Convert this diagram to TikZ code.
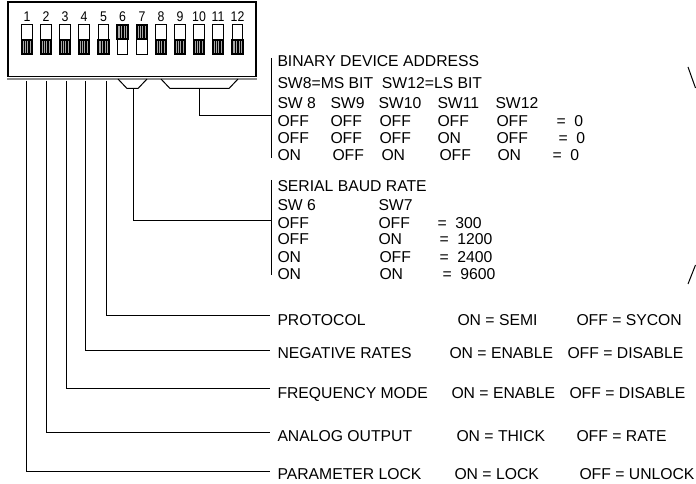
\documentclass[tikz,border=0pt]{standalone}
\usepackage{fontspec}
\setmainfont{Liberation Sans}
\usepackage{xcolor}
\begin{document}
\begin{tikzpicture}[x=0.75pt,y=-0.75pt,line width=0.75pt,
  swbody/.style={draw,fill=white,minimum width=8.2pt,minimum height=23.2pt,inner sep=0pt},
  swlever/.style={draw,fill=stripe,minimum width=7.8pt,minimum height=11.2pt,inner sep=0pt,line width=1.5pt},
  swnum/.style={inner sep=0pt,font=\fontsize{10.5}{12}\selectfont},
  rowtext/.style={anchor=west,inner sep=0pt,text height=8.5pt,text depth=0pt,font=\fontsize{11.8}{13}\selectfont},
  leadtext/.style={rowtext,inner xsep=5.25pt}]
\definecolor{stripe}{HTML}{A8A8A8}
\definecolor{rim}{HTML}{8C8C8C}
\useasboundingbox (0,0) rectangle (696,484);
% housing
\node [draw,line width=1pt,minimum width=186pt,minimum height=56pt,inner sep=0pt] (housing) at (132,39.5) {};
\draw [rim,line width=1.1pt] (housing.south west) ++(0,-1.2pt) -- ([yshift=-1.2pt]housing.south east);
% switches
\foreach \n/\xpos/\ypos/\lpos in {1/27/39.5/south,2/46/39.5/south,3/65/39.5/south,4/84/39.5/south,
    5/103.5/39.5/south,6/122.5/39.5/north,7/142/39.5/north,8/161/39.5/south,
    9/180/39.5/south,10/199/39.5/south,11/218/39.5/south,12/237.5/39.5/south}
{ \node [swbody] (sw\n) at (\xpos,\ypos) {};
  \node [swlever,anchor=\lpos] (lev\n) at (sw\n.\lpos) {};
  \foreach \k in {-1.8,-0.6,0.6,1.8}
  { \draw [line width=0.3pt] ([xshift=\k pt,yshift=1pt]lev\n.south) -- ([xshift=\k pt,yshift=-1pt]lev\n.north);}
  \node [swnum] (num\n) at (\xpos,17) {\scalebox{0.88}[1]{\n}};
}
% text of the two tables
\foreach \txt/\xpos/\ypos [count=\n] in {BINARY DEVICE ADDRESS/277/60.5,{SW8=MS BIT\ \ SW12=LS BIT}/277/82.5,
    SW 8/277/103,SW9/330/103,SW10/378/103,SW11/437/103,SW12/495/103,
    OFF/277/121,OFF/330/121,OFF/379/121,OFF/437/121,OFF/496/121,{=\ \ 0}/556/121,
    OFF/277/138,OFF/330/138,OFF/379/138,ON/437/138,OFF/496/138,{=\ \ 0}/558/138,
    ON/277/155,OFF/332/155,ON/381/155,OFF/439/155,ON/497/155,{=\ \ 0}/552/155}
{ \node [rowtext] (adr\n) at (\xpos,\ypos) {\txt};}
\foreach \txt/\xpos/\ypos [count=\n] in {SERIAL BAUD RATE/277/186,SW 6/277/205,SW7/378/205,
    OFF/277/222.5,OFF/378/222.5,{=\ \ 300}/437/222.5,
    OFF/277/239,ON/378/239,{=\ \ 1200}/439/239,
    ON/277/257,OFF/379/257,{=\ \ 2400}/439/257,
    ON/277/274,ON/379/274,{=\ \ 9600}/442/274}
{ \node [rowtext] (baud\n) at (\xpos,\ypos) {\txt};}
% bars beside the tables
\coordinate (adrtop) at (271,58);
\coordinate (adrbot) at (271,158);
\coordinate (baudtop) at (271,180);
\coordinate (baudbot) at (271,275);
\draw (adrtop) -- (adrbot);
\draw (baudtop) -- (baudbot);
% brackets under the switches
\coordinate (adrin) at (271,116);
\coordinate (baudin) at (271,220.5);
\draw (161,79) -- (170,88.5) coordinate (adrl) -- (229,88.5) coordinate (adrr) -- (238,79);
\draw (118,79) -- (127,88.5) coordinate (baudl) -- (138,88.5) coordinate (baudr) -- (147,79);
\draw (199,88.5) |- (adrin);
\draw (133,88.5) |- (baudin);
% single switch leads
\foreach \n/\xpos/\ypos/\dy/\name/\on/\onx/\off/\offx in {
    1/26.5/474/2/PARAMETER LOCK/ON = LOCK/454/OFF = UNLOCK/579,
    2/46.5/436/3/ANALOG OUTPUT/ON = THICK/456/OFF = RATE/576,
    3/66.5/393/3/FREQUENCY MODE/ON = ENABLE/451/OFF = DISABLE/569,
    4/85.5/353/1.5/NEGATIVE RATES/ON = ENABLE/449/OFF = DISABLE/567,
    5/106.5/320/3/PROTOCOL/ON = SEMI/457/OFF = SYCON/576}
{ \coordinate (foot\n) at (\xpos,81);
  \node [leadtext] (lead\n) at (270,\ypos) {\name};
  \node [rowtext] (on\n) at (\onx,\ypos) {\on};
  \node [rowtext] (off\n) at (\offx,\ypos) {\off};
  \draw (foot\n) |- ([yshift=\dy pt]lead\n.west);
}
% marks at the right edge
\coordinate (tickta) at (688,67);
\coordinate (ticktb) at (695.5,88);
\coordinate (tickba) at (695.5,265);
\coordinate (tickbb) at (688,284);
\draw (tickta) -- (ticktb);
\draw (tickba) -- (tickbb);
\end{tikzpicture}
\end{document}
